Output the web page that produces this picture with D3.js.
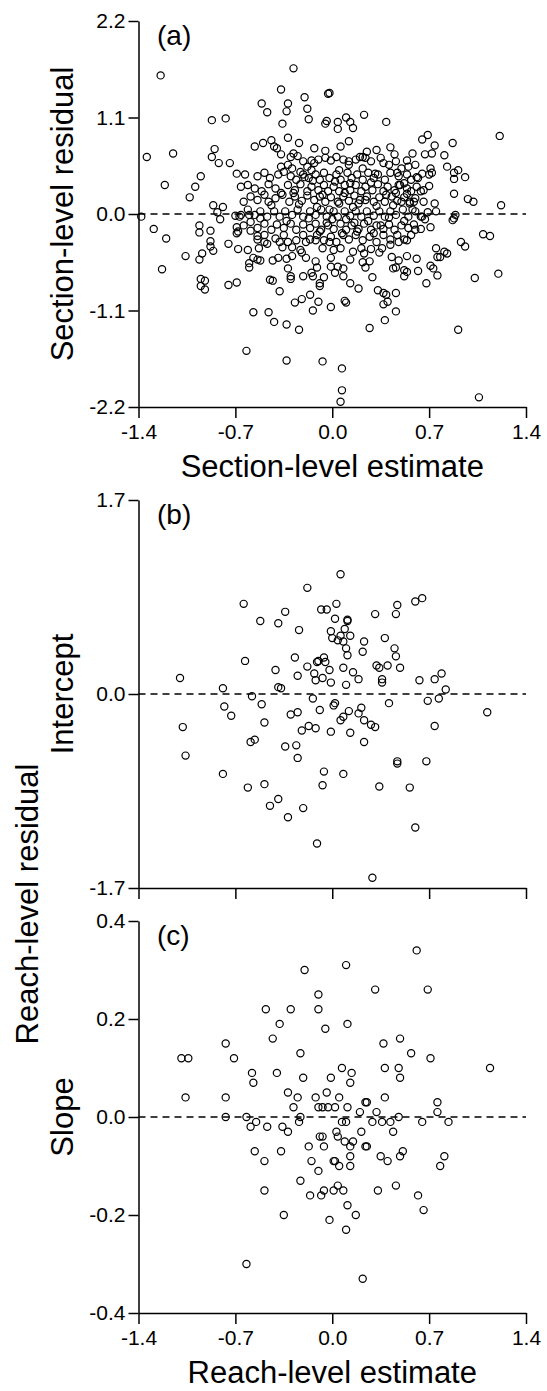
<!DOCTYPE html>
<html>
<head>
<meta charset="utf-8">
<script src="https://cdn.jsdelivr.net/npm/d3@7"></script>
<style>
  body { margin: 0; background: #fff; }
  svg text { font-family: "Liberation Sans", Arial, sans-serif; fill: #000; }
</style>
</head>
<body>
<div id="chart"></div>
<script>
// tick values
var xTicks = [-1.4, -0.7, 0.0, 0.7, 1.4];
var sectionTicks = [-2.2, -1.1, 0.0, 1.1, 2.2];
var interceptTicks = [-1.7, 0.0, 1.7];
var slopeTicks = [-0.4, -0.2, 0.0, 0.2, 0.4];

// (a) section-level estimate vs residual
var sectionPts = [
[-1.24,1.58],[-0.28,1.66],[-0.37,1.42],[-0.03,1.37],[-0.02,1.38],[-0.20,1.33],[-0.51,1.26],[-0.47,1.16],[-0.32,1.26],[-0.33,1.17],
[-0.18,1.20],[-0.17,1.08],[-0.04,1.06],[-0.05,1.03],[0.04,1.05],[0.10,1.10],[0.13,1.05],[0.15,0.98],[0.04,0.97],[0.23,1.13],
[0.39,1.05],[-0.36,1.03],[-0.87,1.07],[-0.77,1.09],[1.21,0.89],[0.65,0.85],[0.69,0.90],[0.87,0.81],[0.74,0.78],[0.67,0.68],
[0.72,0.69],[0.81,0.67],[0.58,0.69],[0.54,0.61],[0.45,0.68],[0.42,0.76],[0.32,0.73],[0.25,0.71],[0.22,0.65],[0.12,0.83],
[0.06,0.77],[-0.05,0.72],[-0.13,0.75],[-0.24,0.81],[-0.32,0.87],[-0.42,0.77],[-0.44,0.84],[-0.50,0.81],[-0.56,0.77],[-0.40,0.75],
[-0.37,0.68],[-0.28,0.69],[-0.85,0.74],[-0.87,0.65],[-0.82,0.58],[-0.74,0.58],[-0.69,0.46],[-0.95,0.43],[-0.99,0.31],[-1.03,0.19],
[-1.21,0.33],[-1.15,0.69],[-1.34,0.65],[0.83,0.54],[0.88,0.47],[0.91,0.50],[0.96,0.42],[0.88,0.40],[0.88,0.23],[0.98,0.17],
[1.02,0.14],[1.22,0.10],[0.74,0.12],[0.75,0.03],[0.65,0.46],[0.70,0.45],[0.72,0.47],[0.61,0.42],[0.70,0.32],[0.71,0.52],
[0.64,0.26],[0.59,0.14],[0.52,0.35],[0.54,0.23],[0.50,0.14],[0.56,0.12],[0.47,0.47],[0.46,0.24],
[-1.38,-0.03],[-1.29,-0.17],[-1.20,-0.28],[-1.23,-0.63],[-1.06,-0.48],[-0.96,-0.52],[-0.94,-0.45],[-0.96,-0.21],[-0.96,-0.13],[-0.88,-0.19],
[-0.86,0.10],[-0.79,0.08],[-0.83,0.02],[-0.81,-0.06],[-0.88,-0.31],[-0.86,-0.42],[-0.88,-0.37],[-0.95,-0.74],[-0.92,-0.76],[-0.75,-0.34],
[-0.68,-0.40],[-0.61,-0.41],[-0.60,-0.56],[-0.57,-0.50],[-0.54,-0.52],[-0.52,-0.53],[-0.60,-0.61],[-0.43,-0.76],[-0.45,-0.75],[-0.30,-0.71],
[-0.30,-0.74],[-0.21,-0.71],[-0.14,-0.71],[-0.06,-0.72],[0.02,-0.67],[0.08,-0.71],[0.29,-0.72],[0.52,-0.71],[0.54,-0.66],[0.62,-0.65],
[0.76,-0.70],[0.73,-0.62],[0.71,-0.59],[0.75,-0.39],[0.76,-0.49],[0.78,-0.49],[0.81,-0.43],[0.83,-0.45],[0.93,-0.32],[0.96,-0.37],
[1.09,-0.23],[1.14,-0.25],[1.03,-0.73],[1.20,-0.68],[0.88,-0.05],[0.87,-0.07],[0.89,-0.01],[0.60,-0.18],[0.64,-0.17],[0.67,-0.06],
[0.71,-0.15],[0.65,-0.03],[0.54,-0.48],[0.48,-0.53],[0.43,-0.49],[0.44,-0.62],[0.52,-0.64],[0.46,-0.61],[0.61,-0.51],[0.34,-0.44],
[0.22,-0.55],[0.24,-0.61],[0.23,-0.45],[0.27,-0.54],[0.13,-0.52],[0.08,-0.62],[0.04,-0.60],[-0.01,-0.60],[-0.01,-0.50],[-0.12,-0.54],
[-0.15,-0.67],[-0.11,-0.61],[-0.19,-0.50],[-0.22,-0.44],[-0.29,-0.48],[-0.33,-0.51],[-0.39,-0.50],[-0.43,-0.53],[-0.32,-0.62],
[-0.38,-0.32],[-0.36,-0.38],[-0.32,-0.32],[-0.29,-0.38],[-0.23,-0.41],[-0.19,-0.32],[-0.12,-0.30],[-0.07,-0.39],[0.01,-0.41],[-0.02,-0.32],
[0.06,-0.39],[0.15,-0.43],[0.21,-0.39],[0.28,-0.40],[0.36,-0.39],[0.42,-0.35],[0.48,-0.32],[0.52,-0.29],[-0.54,-0.29],[-0.47,-0.34],
[-0.53,-0.39],[-0.54,-0.25],[-0.49,-0.32],[-0.68,-0.20],[-0.69,-0.22],[-0.69,-0.15],[-0.67,-0.03],[-0.70,-0.02],[-0.60,-0.01],[-0.59,-0.19],
[-0.95,-0.82],[-0.92,-0.86],[-0.75,-0.81],[-0.69,-0.78],[-0.38,-0.88],[-0.09,-0.79],[-0.09,-0.82],[0.13,-0.79],[0.19,-0.85],[0.33,-0.87],
[0.37,-0.90],[0.39,-0.92],[0.46,-0.90],[0.68,-0.79],[-0.27,-1.01],[-0.22,-0.97],[-0.16,-0.92],[-0.10,-1.00],[-0.14,-1.10],[-0.01,-1.06],
[0.09,-0.99],[0.10,-1.01],[0.37,-1.03],[0.40,-1.00],[0.46,-1.11],[-0.57,-1.12],[-0.46,-1.12],[-0.42,-1.23],[-0.33,-1.26],[-0.24,-1.32],
[0.27,-1.30],[0.38,-1.21],[0.91,-1.32],[-0.62,-1.56],[-0.33,-1.67],[-0.07,-1.68],[0.07,-1.76],[0.07,-2.01],[0.06,-2.14],[1.06,-2.09],
// dense cloud
[-0.30,0.65],[-0.25,0.66],[-0.21,0.60],[-0.15,0.61],[-0.13,0.58],[-0.10,0.62],[-0.05,0.64],[-0.01,0.61],[0.03,0.65],[0.08,0.62],
[0.12,0.56],[0.17,0.62],[0.20,0.65],[0.24,0.64],[0.28,0.60],[0.35,0.64],[0.37,0.58],[0.41,0.56],[0.46,0.60],[0.50,0.52],
[0.55,0.54],[0.60,0.56],[-0.37,0.54],[-0.32,0.56],[-0.29,0.52],[-0.23,0.48],[-0.18,0.54],[-0.15,0.50],
[-0.63,0.45],[-0.54,0.43],[-0.49,0.47],[-0.45,0.41],[-0.39,0.45],[-0.35,0.48],[-0.30,0.43],[-0.26,0.39],[-0.21,0.45],[-0.17,0.41],
[-0.12,0.45],[-0.09,0.39],[-0.06,0.47],[-0.02,0.41],[0.03,0.45],[0.06,0.39],[0.11,0.47],[0.14,0.41],[0.18,0.45],[0.22,0.39],
[0.26,0.47],[0.30,0.41],[0.33,0.45],[0.38,0.39],[0.42,0.47],[0.48,0.43],[0.54,0.45],[0.57,0.39],[0.62,0.41],
[-0.66,0.31],[-0.61,0.33],[-0.56,0.29],[-0.51,0.26],[-0.46,0.34],[-0.41,0.29],[-0.37,0.24],[-0.32,0.33],[-0.27,0.27],[-0.23,0.34],
[-0.18,0.26],[-0.15,0.31],[-0.10,0.27],[-0.06,0.33],[-0.03,0.26],[0.01,0.31],[0.05,0.26],[0.09,0.33],[0.13,0.27],[0.17,0.33],
[0.21,0.26],[0.24,0.31],[0.29,0.27],[0.33,0.34],[0.37,0.26],[0.40,0.31],[0.45,0.27],[0.49,0.33],[0.54,0.29],[0.57,0.26],
[0.61,0.31],[0.66,0.27],
[-0.64,0.14],[-0.59,0.20],[-0.54,0.16],[-0.49,0.22],[-0.46,0.14],[-0.41,0.18],[-0.36,0.22],[-0.31,0.14],[-0.27,0.20],[-0.22,0.15],
[-0.18,0.21],[-0.13,0.16],[-0.09,0.20],[-0.05,0.14],[-0.01,0.19],[0.04,0.14],[0.08,0.20],[0.12,0.15],[0.16,0.21],[0.20,0.16],
[0.25,0.20],[0.30,0.14],[0.34,0.19],[0.38,0.14],[0.43,0.20],[0.47,0.15],[0.52,0.19],[0.56,0.14],[0.60,0.18],[0.66,0.14],
[-0.66,-0.01],[-0.61,0.05],[-0.56,-0.01],[-0.52,0.03],[-0.47,-0.03],[-0.42,0.03],[-0.38,-0.03],[-0.34,0.03],[-0.29,-0.01],[-0.25,0.05],
[-0.21,-0.03],[-0.16,0.03],[-0.12,-0.01],[-0.08,0.05],[-0.04,-0.03],[0.01,0.03],[0.04,-0.03],[0.09,0.03],[0.13,-0.02],[0.17,0.03],
[0.21,-0.03],[0.25,0.03],[0.30,-0.02],[0.34,0.03],[0.38,-0.03],[0.42,0.03],[0.46,-0.01],[0.51,0.05],[0.55,-0.03],[0.60,0.03],
[0.64,-0.03],[0.69,0.02],
[-0.64,-0.13],[-0.59,-0.09],[-0.54,-0.16],[-0.49,-0.11],[-0.44,-0.18],[-0.40,-0.12],[-0.35,-0.16],[-0.30,-0.11],[-0.26,-0.18],[-0.21,-0.12],
[-0.16,-0.16],[-0.12,-0.11],[-0.08,-0.18],[-0.03,-0.13],[0.01,-0.17],[0.06,-0.11],[0.10,-0.18],[0.14,-0.13],[0.19,-0.17],[0.23,-0.11],
[0.28,-0.18],[0.32,-0.13],[0.37,-0.17],[0.41,-0.12],[0.45,-0.18],[0.50,-0.13],[0.55,-0.16],[0.59,-0.12],
[-0.49,-0.24],[-0.41,-0.28],[-0.35,-0.24],[-0.26,-0.30],[-0.21,-0.24],[-0.16,-0.29],[-0.11,-0.24],[-0.06,-0.30],[-0.01,-0.26],[0.03,-0.32],
[0.08,-0.24],[0.12,-0.29],[0.17,-0.24],[0.22,-0.30],[0.27,-0.26],[0.32,-0.32],[0.37,-0.24],[0.42,-0.29],[0.47,-0.24],[0.54,-0.30],
[0.57,-0.24],
[-0.02,0.05],[0.05,0.12],[0.10,-0.06],[0.15,0.08],[-0.07,0.22],[0.02,0.37],[0.19,0.12],[0.26,-0.08],[0.32,0.09],[0.39,0.22],
[-0.11,0.08],[-0.17,-0.05],[0.07,-0.22],[0.13,0.35],[0.22,0.52],[-0.04,-0.10],[0.28,0.36],[0.35,-0.13],[0.44,0.10],[-0.14,0.38],
[0.00,-0.06],[0.09,0.24],[0.18,-0.20],[0.24,0.16],[-0.09,-0.20],[0.31,0.46],[0.41,-0.04],[-0.24,0.11],[0.05,0.50],[0.16,-0.10],
[0.48,0.33],[-0.28,0.24],[-0.20,0.42],[0.12,0.60],[0.30,-0.22],[-0.33,-0.08],[0.52,-0.08],[0.58,0.05],[-0.44,0.10],[-0.52,-0.05]
];

// (b) reach-level estimate vs intercept residual
var interceptPts = [
[0.06,1.05],[-0.18,0.93],[-0.64,0.79],[0.03,0.79],[0.60,0.81],[0.65,0.84],[-0.08,0.74],[-0.04,0.74],[0.47,0.78],[-0.34,0.72],
[0.31,0.70],[0.46,0.70],[-0.52,0.64],[0.02,0.66],[0.11,0.65],[0.11,0.64],[-0.39,0.62],[-0.24,0.56],[-0.01,0.55],[0.09,0.57],
[0.06,0.51],[0.13,0.51],[0.00,0.49],[0.04,0.47],[0.08,0.46],[0.23,0.46],[0.38,0.49],[0.10,0.40],[0.45,0.40],[0.22,0.37],
[0.11,0.34],[0.46,0.33],[-0.27,0.32],[-0.63,0.29],[-0.06,0.32],[-0.10,0.29],[-0.11,0.28],[-0.05,0.28],[-0.18,0.24],[-0.02,0.21],
[0.08,0.23],[-0.41,0.21],[0.32,0.25],[0.34,0.23],[0.40,0.25],[0.49,0.23],[-0.25,0.16],[-0.13,0.18],[-0.07,0.14],[0.15,0.19],
[0.19,0.13],[-0.12,0.12],[-0.01,0.10],[0.10,0.08],[0.36,0.13],[0.36,0.10],[0.63,0.12],[0.74,0.13],[0.79,0.18],[-1.10,0.14],
[-0.39,0.06],[-0.37,0.05],[-0.79,0.05],[0.82,0.04],[-0.58,-0.02],[-0.14,-0.04],[0.69,-0.06],[0.77,-0.04],[0.41,-0.08],[-0.51,-0.09],
[-0.78,-0.11],[0.01,-0.10],[0.02,-0.08],[0.21,-0.12],[0.12,-0.15],[-0.09,-0.14],[0.19,-0.17],[-0.25,-0.16],[-0.30,-0.18],[-0.73,-0.19],
[1.12,-0.16],[0.08,-0.20],[0.06,-0.23],[0.23,-0.23],[0.28,-0.27],[0.31,-0.29],[-0.17,-0.28],[-0.12,-0.30],[-0.22,-0.32],[-1.08,-0.29],
[-0.49,-0.25],[0.74,-0.28],[-0.01,-0.33],[0.13,-0.34],[0.23,-0.42],[-0.59,-0.42],[-0.56,-0.40],[-0.34,-0.46],[-0.26,-0.45],[-0.25,-0.56],
[-1.06,-0.54],[0.47,-0.59],[0.47,-0.61],[0.68,-0.59],[-0.06,-0.68],[0.08,-0.70],[-0.79,-0.70],[-0.61,-0.82],[-0.49,-0.79],[-0.07,-0.80],
[0.34,-0.81],[0.56,-0.82],[-0.39,-0.92],[-0.45,-0.98],[-0.21,-1.00],[-0.32,-1.08],[0.60,-1.17],[-0.11,-1.31],[0.29,-1.61]
];

// (c) reach-level estimate vs slope residual
var slopePts = [
[0.61,0.34],[-0.20,0.30],[0.10,0.31],[0.31,0.26],[0.69,0.26],[-0.10,0.25],[-0.10,0.22],[-0.48,0.22],[-0.30,0.22],[0.11,0.19],
[-0.38,0.19],[-0.05,0.18],[0.49,0.16],[-0.43,0.16],[0.37,0.15],[-0.77,0.15],[-0.71,0.12],[-0.23,0.13],[0.57,0.13],[0.71,0.12],
[-1.09,0.12],[-1.04,0.12],[-0.58,0.09],[-0.57,0.07],[-0.40,0.09],[-0.21,0.08],[0.07,0.10],[0.14,0.09],[0.48,0.10],[0.38,0.10],
[0.49,0.08],[-0.01,0.08],[0.13,0.07],[1.14,0.10],[-1.06,0.04],[-0.77,0.04],[-0.32,0.05],[-0.25,0.04],[-0.12,0.04],[-0.04,0.05],
[0.05,0.04],[0.38,0.04],[0.25,0.03],[0.24,0.03],[-0.28,0.02],[-0.10,0.02],[-0.07,0.02],[-0.03,0.02],[0.02,0.02],[0.11,0.02],
[0.76,0.03],[0.76,0.01],[-0.23,0.00],[0.20,0.01],[0.32,0.01],[-0.77,0.00],[-0.62,0.00],[0.48,0.00],[-0.55,-0.01],[-0.24,-0.01],
[0.07,-0.01],[0.10,-0.01],[0.29,-0.01],[0.42,-0.01],[0.84,-0.01],[0.65,-0.01],[-0.59,-0.02],[-0.47,-0.02],[-0.36,-0.02],[-0.32,-0.03],
[0.21,-0.03],[0.36,-0.01],[0.44,-0.03],[-0.09,-0.04],[-0.07,-0.04],[-0.06,-0.06],[0.03,-0.03],[0.04,-0.04],[0.09,-0.05],[0.15,-0.05],
[0.13,-0.06],[0.13,-0.08],[0.24,-0.06],[0.25,-0.06],[-0.17,-0.06],[-0.56,-0.07],[-0.37,-0.07],[-0.49,-0.09],[-0.15,-0.09],[-0.10,-0.11],
[0.01,-0.09],[0.02,-0.09],[0.05,-0.10],[0.13,-0.10],[0.35,-0.08],[0.40,-0.09],[0.49,-0.08],[0.51,-0.07],[0.81,-0.08],[0.78,-0.10],
[-0.23,-0.13],[-0.16,-0.16],[-0.08,-0.16],[-0.06,-0.15],[0.01,-0.15],[0.04,-0.14],[0.08,-0.15],[0.33,-0.15],[0.46,-0.14],[0.62,-0.16],
[-0.49,-0.15],[0.11,-0.18],[0.17,-0.20],[-0.35,-0.20],[-0.02,-0.21],[0.10,-0.23],[0.66,-0.19],[-0.62,-0.30],[0.22,-0.33]
];

var W = 547, H = 1391;
var svg = d3.select("#chart").append("svg").attr("width", W).attr("height", H);
svg.append("rect").attr("width", W).attr("height", H).attr("fill", "#fff");

var x = d3.scaleLinear().domain([-1.4, 1.4]).range([138.5, 526]);
var fmt = function(d) { return d.toFixed(1); };

function drawPanel(opt) {
  var y = d3.scaleLinear().domain(opt.domain).range([opt.bottom, opt.top]);
  var g = svg.append("g");

  g.append("line")
    .attr("x1", x(-1.4)).attr("x2", x(1.4))
    .attr("y1", y(0)).attr("y2", y(0))
    .attr("stroke", "#000").attr("stroke-width", 1.5)
    .attr("stroke-dasharray", "7,5");

  g.selectAll("circle").data(opt.pts).enter().append("circle")
    .attr("cx", function(d) { return x(d[0]); })
    .attr("cy", function(d) { return y(d[1]); })
    .attr("r", 3.6)
    .attr("fill", "none")
    .attr("stroke", "#000")
    .attr("stroke-width", 1.2);

  var ya = g.append("g").attr("transform", "translate(" + x(-1.4) + ",0)")
    .call(d3.axisLeft(y).tickValues(opt.ticks).tickSize(10).tickSizeOuter(0).tickPadding(3).tickFormat(fmt));
  var xa = g.append("g").attr("transform", "translate(0," + opt.bottom + ")")
    .call(d3.axisBottom(x).tickValues(xTicks).tickSize(11).tickSizeOuter(0).tickPadding(6)
      .tickFormat(opt.xLabels ? fmt : ""));
  [ya, xa].forEach(function(a) {
    a.attr("font-family", "Liberation Sans, Arial, sans-serif").attr("font-size", 21);
    a.selectAll("path, line").attr("stroke", "#000").attr("stroke-width", 1.5);
  });

  g.append("text").attr("x", 157).attr("y", opt.top + 24)
    .attr("font-size", 28).text(opt.label);

  if (opt.yTitle) {
    g.append("text")
      .attr("transform", "translate(73," + y(0) + ") rotate(-90)")
      .attr("text-anchor", "middle").attr("font-size", 31)
      .text(opt.yTitle);
  }
  if (opt.xTitle) {
    g.append("text").attr("x", x(0)).attr("y", opt.bottom + 70)
      .attr("text-anchor", "middle").attr("font-size", 31)
      .text(opt.xTitle);
  }
}

drawPanel({pts: sectionPts, domain: [-2.2, 2.2], ticks: sectionTicks, top: 21, bottom: 407,
  label: "(a)", xLabels: true, yTitle: "Section-level residual", xTitle: "Section-level estimate"});
drawPanel({pts: interceptPts, domain: [-1.7, 1.7], ticks: interceptTicks, top: 500, bottom: 888,
  label: "(b)", xLabels: false, yTitle: "Intercept"});
drawPanel({pts: slopePts, domain: [-0.4, 0.4], ticks: slopeTicks, top: 921, bottom: 1313,
  label: "(c)", xLabels: true, yTitle: "Slope", xTitle: "Reach-level estimate"});

svg.append("text")
  .attr("transform", "translate(38,904) rotate(-90)")
  .attr("text-anchor", "middle").attr("font-size", 31)
  .text("Reach-level residual");
</script>
</body>
</html>
